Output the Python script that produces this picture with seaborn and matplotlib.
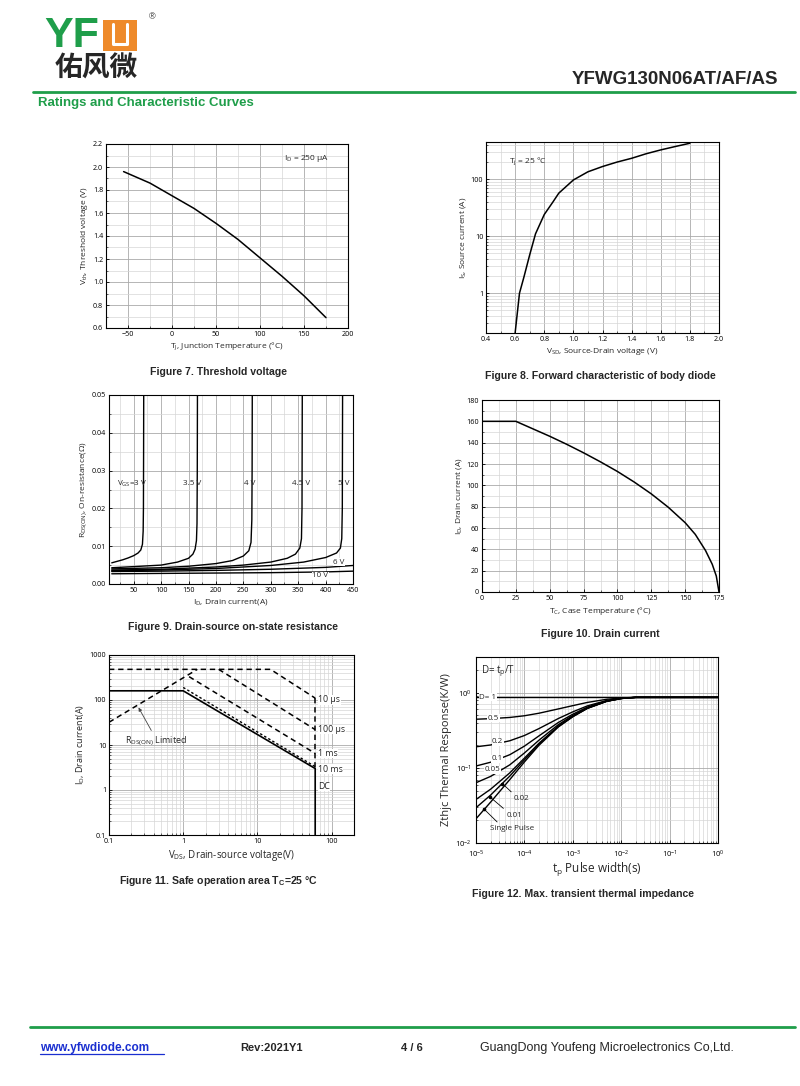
import numpy as np
import pandas as pd
import matplotlib
matplotlib.use("Agg")
import matplotlib.pyplot as plt
import seaborn as sns
from matplotlib.ticker import MultipleLocator, LogLocator, NullFormatter, FixedLocator, FormatStrFormatter
from matplotlib.patches import Rectangle
from matplotlib.lines import Line2D

# ---------------- data ----------------
# Figure 7: threshold voltage vs junction temperature
tj = [-55, -40, -25, 0, 25, 50, 75, 100, 125, 150, 175]
vth = [1.96, 1.91, 1.86, 1.75, 1.64, 1.51, 1.37, 1.21, 1.05, 0.88, 0.69]

# Figure 8: body diode forward characteristic
vsd = [0.60, 0.63, 0.66, 0.70, 0.74, 0.80, 0.86, 0.90, 1.00, 1.10, 1.20, 1.30, 1.40, 1.50, 1.60, 1.70, 1.80]
isd = [0.2, 1.0, 1.9, 4.7, 11, 24, 40, 57, 97, 135, 167, 200, 233, 280, 327, 375, 428]

# Figure 9: on-resistance vs drain current for several VGS
vgs_labels = ["3 V", "3.5 V", "4 V", "4.5 V", "5 V", "6 V", "10 V"]
id_3v0 = [10, 20, 30, 40, 50, 58, 63, 66, 67.3, 67.8, 68.1, 68.3]
r_3v0 = [0.0056, 0.0060, 0.0064, 0.0069, 0.0075, 0.0082, 0.0090, 0.0105, 0.0140, 0.0200, 0.0350, 0.0500]
id_3v5 = [10, 50, 100, 130, 150, 158, 162, 164.5, 165.5, 166, 166.3]
r_3v5 = [0.0043, 0.0046, 0.0050, 0.0058, 0.0068, 0.0079, 0.0092, 0.0115, 0.0160, 0.0300, 0.0500]
id_4v0 = [10, 100, 150, 200, 230, 250, 260, 264, 265.5, 266, 266.3]
r_4v0 = [0.0040, 0.0043, 0.0047, 0.0054, 0.0062, 0.0074, 0.0088, 0.0110, 0.0170, 0.0300, 0.0500]
id_4v5 = [10, 100, 200, 250, 300, 330, 345, 353, 356, 357, 357.5]
r_4v5 = [0.0037, 0.0039, 0.0045, 0.0050, 0.0058, 0.0068, 0.0079, 0.0095, 0.0120, 0.0200, 0.0500]
id_5v0 = [10, 100, 200, 300, 360, 400, 420, 427, 429.5, 430.5, 431]
r_5v0 = [0.0035, 0.0037, 0.0041, 0.0049, 0.0058, 0.0070, 0.0082, 0.0095, 0.0120, 0.0200, 0.0500]
id_6v0 = [10, 100, 200, 300, 400, 450]
r_6v0 = [0.0033, 0.0034, 0.0036, 0.0039, 0.0044, 0.0049]
id_10v = [10, 100, 200, 300, 400, 450]
r_10v = [0.0027, 0.0028, 0.0029, 0.0030, 0.0032, 0.0034]

# Figure 10: drain current derating vs case temperature
tc = [0, 25, 37.5, 50, 62.5, 75, 87.5, 100, 112.5, 125, 137.5, 150, 157.5, 165, 170, 173, 175]
idc = [160, 160, 153, 146, 138.5, 130.5, 122, 113, 103, 92, 79.5, 65, 54, 39, 26, 15, 0]

# Figure 11: safe operating area
soa_dc_v = [0.1, 1.0, 60, 60]
soa_dc_i = [160, 160, 3.0, 0.1]
soa_10ms_v = [1.0, 60]
soa_10ms_i = [190, 3.3]
soa_1ms_v = [1.2, 60]
soa_1ms_i = [330, 6.5]
soa_100us_v = [3.0, 60]
soa_100us_i = [480, 22]
soa_10us_v = [0.1, 15, 60]
soa_10us_i = [480, 480, 110]
soa_rds_v = [0.1, 1.55]
soa_rds_i = [32, 480]
soa_vmax_v = [60, 60]
soa_vmax_i = [110, 3.0]
soa_labels = ["10 µs", "100 µs", "1 ms", "10 ms", "DC"]
soa_label_i = [100, 22, 6.5, 2.9, 1.2]

# Figure 12: transient thermal impedance
tp = [1e-5, 2e-5, 5e-5, 1e-4, 2e-4, 5e-4, 1e-3, 2e-3, 5e-3, 1e-2, 2e-2, 1e-1, 1.0]
z_d100 = [0.87, 0.87, 0.87, 0.87, 0.87, 0.87, 0.87, 0.87, 0.87, 0.87, 0.87, 0.87, 0.87]
z_d050 = [0.445, 0.453, 0.470, 0.495, 0.535, 0.610, 0.675, 0.745, 0.820, 0.855, 0.870, 0.87, 0.87]
z_d020 = [0.191, 0.202, 0.230, 0.270, 0.334, 0.454, 0.558, 0.670, 0.790, 0.846, 0.870, 0.87, 0.87]
z_d010 = [0.106, 0.119, 0.150, 0.195, 0.267, 0.402, 0.519, 0.645, 0.780, 0.843, 0.870, 0.87, 0.87]
z_d005 = [0.0635, 0.077, 0.110, 0.158, 0.234, 0.376, 0.500, 0.633, 0.775, 0.842, 0.870, 0.87, 0.87]
z_d002 = [0.038, 0.052, 0.086, 0.135, 0.213, 0.360, 0.488, 0.625, 0.772, 0.841, 0.870, 0.87, 0.87]
z_d001 = [0.0295, 0.0434, 0.078, 0.128, 0.207, 0.355, 0.484, 0.623, 0.771, 0.840, 0.870, 0.87, 0.87]
z_single = [0.021, 0.035, 0.070, 0.120, 0.200, 0.350, 0.480, 0.620, 0.770, 0.840, 0.870, 0.87, 0.87]

# ---------------- style ----------------
sns.set_theme(style="ticks")
plt.rcParams['font.family'] = ['Open Sans', 'DejaVu Sans', 'Noto Sans CJK SC']
plt.rcParams['mathtext.default'] = 'regular'

W, H = 800, 1086
fig = plt.figure(figsize=(W / 100, H / 100), dpi=100)
fig.patch.set_facecolor('white')

GREEN = '#1f9e4a'
ORANGE = '#ee8a2a'
HEAD = ['Liberation Sans', 'DejaVu Sans']


def px(x, y):
    return x / W, 1 - y / H


def make_ax(l, t, r, b):
    return fig.add_axes([l / W, 1 - b / H, (r - l) / W, (b - t) / H])


def style_ax(ax, labelsize=5.2):
    for s in ax.spines.values():
        s.set_color('black')
        s.set_linewidth(0.8)
    ax.tick_params(which='major', direction='in', length=2.5, width=0.6,
                   labelsize=labelsize, colors='black', pad=2)
    ax.tick_params(which='minor', direction='in', length=1.5, width=0.5)
    ax.grid(True, which='major', color='#a9a9a9', lw=0.6)
    ax.grid(True, which='minor', color='#d6d6d6', lw=0.5)
    ax.set_axisbelow(True)
    ax.set_facecolor('white')


def curve(ax, x, y, **kw):
    kw.setdefault('color', 'black')
    kw.setdefault('lw', 1.1)
    sns.lineplot(x=x, y=y, ax=ax, sort=False, estimator=None, legend=False, **kw)


def caption(x, y, text):
    fig.text(*px(x, y), text, ha='center', va='center', fontsize=7.6,
             fontweight='bold', family=HEAD)


# ---------------- header ----------------
fig.text(*px(44, 36), "YF", color=GREEN, fontsize=31, fontweight='bold',
         family=HEAD, ha='left', va='center')
fig.patches.append(Rectangle(px(103, 51), 34 / W, 31 / H, transform=fig.transFigure,
                             facecolor=ORANGE, edgecolor='none'))
fig.lines.append(Line2D([113 / W, 113 / W, 127 / W, 127 / W],
                        [1 - 24 / H, 1 - 44 / H, 1 - 44 / H, 1 - 24 / H],
                        transform=fig.transFigure, color='white', lw=2.2))
fig.text(*px(152, 17), "®", fontsize=6.5, ha='center', va='center', family=HEAD)
fig.text(*px(55, 69), "佑风微", fontsize=20, fontweight='bold', ha='left', va='center',
         family=['Noto Sans CJK SC', 'DejaVu Sans'])
fig.text(*px(778, 80), "YFWG130N06AT/AF/AS", fontsize=13.5, fontweight='bold',
         ha='right', va='center', family=HEAD)
fig.lines.append(Line2D([33 / W, 795 / W], [1 - 92 / H, 1 - 92 / H],
                        transform=fig.transFigure, color=GREEN, lw=2))
fig.text(*px(38, 103), "Ratings and Characteristic Curves", fontsize=9.5,
         fontweight='bold', color=GREEN, ha='left', va='center', family=HEAD)

# ---------------- footer ----------------
fig.lines.append(Line2D([30 / W, 795 / W], [1 - 1027 / H, 1 - 1027 / H],
                        transform=fig.transFigure, color=GREEN, lw=2))
fig.text(*px(40, 1048), "www.yfwdiode.com", fontsize=8.5, fontweight='bold',
         color='#1a2fd0', ha='left', va='center', family=HEAD)
fig.lines.append(Line2D([40 / W, 164 / W], [1 - 1054 / H, 1 - 1054 / H],
                        transform=fig.transFigure, color='#1a2fd0', lw=0.9))
fig.text(*px(240, 1048), "Rev:2021Y1", fontsize=8, fontweight='bold', ha='left',
         va='center', family=HEAD)
fig.text(*px(401, 1048), "4 / 6", fontsize=8, fontweight='bold', ha='left',
         va='center', family=HEAD)
fig.text(*px(480, 1048), "GuangDong Youfeng Microelectronics Co,Ltd.", fontsize=9,
         ha='left', va='center', family=HEAD)

# ---------------- Figure 7 ----------------
ax = make_ax(106, 144, 348, 328)
style_ax(ax)
curve(ax, tj, vth)
ax.set_xlim(-75, 200)
ax.set_ylim(0.6, 2.2)
ax.xaxis.set_major_locator(FixedLocator([-50, 0, 50, 100, 150, 200]))
ax.xaxis.set_minor_locator(MultipleLocator(25))
ax.yaxis.set_major_locator(MultipleLocator(0.2))
ax.yaxis.set_minor_locator(MultipleLocator(0.1))
ax.yaxis.set_major_formatter(FormatStrFormatter('%.1f'))
ax.set_xlabel("T$_J$, Junction Temperature (°C)", fontsize=6, labelpad=2)
ax.set_ylabel("V$_{th}$, Threshold voltage (V)", fontsize=6, labelpad=2)
ax.text(127, 2.07, "I$_D$ = 250 µA", fontsize=6, ha='left', va='center')
caption(218, 372, "Figure 7. Threshold voltage")

# ---------------- Figure 8 ----------------
ax = make_ax(486, 142, 719, 333)
style_ax(ax)
curve(ax, vsd, isd)
ax.set_yscale('log')
ax.set_xlim(0.4, 2.0)
ax.set_ylim(0.2, 450)
ax.xaxis.set_major_locator(MultipleLocator(0.2))
ax.xaxis.set_minor_locator(MultipleLocator(0.1))
ax.xaxis.set_major_formatter(FormatStrFormatter('%.1f'))
ax.yaxis.set_major_locator(FixedLocator([1, 10, 100]))
ax.yaxis.set_major_formatter(FormatStrFormatter('%g'))
ax.yaxis.set_minor_locator(LogLocator(base=10, subs=np.arange(2, 10)))
ax.yaxis.set_minor_formatter(NullFormatter())
ax.set_xlabel("V$_{SD}$, Source-Drain voltage (V)", fontsize=6, labelpad=2)
ax.set_ylabel("I$_S$, Source current (A)", fontsize=6, labelpad=2)
ax.text(0.56, 210, "T$_j$ = 25 °C", fontsize=6, ha='left', va='center')
caption(600, 376, "Figure 8. Forward characteristic of body diode")

# ---------------- Figure 9 ----------------
ax = make_ax(109, 395, 353, 584)
style_ax(ax)
for xs, ys in [(id_3v0, r_3v0), (id_3v5, r_3v5), (id_4v0, r_4v0), (id_4v5, r_4v5),
               (id_5v0, r_5v0), (id_6v0, r_6v0), (id_10v, r_10v)]:
    curve(ax, xs, ys, lw=1.0)
ax.set_xlim(5, 450)
ax.set_ylim(0, 0.05)
ax.xaxis.set_major_locator(MultipleLocator(50))
ax.xaxis.set_minor_locator(MultipleLocator(25))
ax.yaxis.set_major_locator(MultipleLocator(0.01))
ax.yaxis.set_minor_locator(MultipleLocator(0.005))
ax.yaxis.set_major_formatter(FormatStrFormatter('%.2f'))
ax.set_xlabel("I$_D$, Drain current(A)", fontsize=6, labelpad=2)
ax.set_ylabel("R$_{DS(ON)}$, On-resistance(Ω)", fontsize=6, labelpad=2)
lab_y = 0.0265
ax.text(47, lab_y, "V$_{GS}$=" + vgs_labels[0], fontsize=5.8, ha='center', va='center')
ax.text(157, lab_y, vgs_labels[1], fontsize=5.8, ha='center', va='center')
ax.text(262, lab_y, vgs_labels[2], fontsize=5.8, ha='center', va='center')
ax.text(355, lab_y, vgs_labels[3], fontsize=5.8, ha='center', va='center')
ax.text(434, lab_y, vgs_labels[4], fontsize=5.8, ha='center', va='center')
ax.text(424, 0.0058, vgs_labels[5], fontsize=5.8, ha='center', va='center',
        bbox=dict(fc='white', ec='none', pad=0.3))
ax.text(390, 0.0022, vgs_labels[6], fontsize=5.8, ha='center', va='center',
        bbox=dict(fc='white', ec='none', pad=0.3))
caption(233, 627, "Figure 9. Drain-source on-state resistance")

# ---------------- Figure 10 ----------------
ax = make_ax(482, 400, 719, 592)
style_ax(ax)
curve(ax, tc, idc)
ax.set_xlim(0, 175)
ax.set_ylim(0, 180)
ax.xaxis.set_major_locator(MultipleLocator(25))
ax.xaxis.set_minor_locator(MultipleLocator(12.5))
ax.yaxis.set_major_locator(MultipleLocator(20))
ax.yaxis.set_minor_locator(MultipleLocator(10))
ax.set_xlabel("T$_C$, Case Temperature (°C)", fontsize=6, labelpad=2)
ax.set_ylabel("I$_D$, Drain current (A)", fontsize=6, labelpad=2)
caption(600, 634, "Figure 10. Drain current")

# ---------------- Figure 11 ----------------
ax = make_ax(109, 655, 354, 835)
style_ax(ax)
ax.set_xscale('log')
ax.set_yscale('log')
dash = (0, (3.5, 2.5))
curve(ax, soa_dc_v, soa_dc_i, lw=1.2)
curve(ax, soa_10ms_v, soa_10ms_i, lw=1.0, linestyle=(0, (1.8, 1.6)))
curve(ax, soa_1ms_v, soa_1ms_i, lw=1.1, linestyle=dash)
curve(ax, soa_100us_v, soa_100us_i, lw=1.1, linestyle=dash)
curve(ax, soa_10us_v, soa_10us_i, lw=1.1, linestyle=dash)
curve(ax, soa_rds_v, soa_rds_i, lw=1.1, linestyle=dash)
curve(ax, soa_vmax_v, soa_vmax_i, lw=1.1, linestyle=dash)
ax.set_xlim(0.1, 200)
ax.set_ylim(0.1, 1000)
ax.xaxis.set_major_locator(FixedLocator([0.1, 1, 10, 100]))
ax.xaxis.set_major_formatter(FormatStrFormatter('%g'))
ax.xaxis.set_minor_locator(LogLocator(base=10, subs=np.arange(2, 10)))
ax.xaxis.set_minor_formatter(NullFormatter())
ax.yaxis.set_major_locator(FixedLocator([0.1, 1, 10, 100, 1000]))
ax.yaxis.set_major_formatter(FormatStrFormatter('%g'))
ax.yaxis.set_minor_locator(LogLocator(base=10, subs=np.arange(2, 10)))
ax.yaxis.set_minor_formatter(NullFormatter())
ax.set_xlabel("V$_{DS}$, Drain-source voltage(V)", fontsize=7, labelpad=2)
ax.set_ylabel("I$_D$, Drain current(A)", fontsize=6.5, labelpad=2)
for lab, yv in zip(soa_labels, soa_label_i):
    ax.text(66, yv, lab, fontsize=6.3, ha='left', va='center',
            bbox=dict(fc='white', ec='none', pad=0.2))
ax.annotate("R$_{DS(ON)}$ Limited", xy=(0.25, 68), xytext=(0.165, 12.5),
            fontsize=6.5, ha='left', va='center',
            arrowprops=dict(arrowstyle='-|>', color='#444444', lw=0.6,
                            shrinkA=0, shrinkB=0, mutation_scale=5,
                            relpos=(0.45, 1.0)))
caption(219, 881, "Figure 11. Safe operation area T$_C$=25 °C")

# ---------------- Figure 12 ----------------
ax = make_ax(476, 657, 718, 843)
style_ax(ax, labelsize=5.5)
ax.set_xscale('log')
ax.set_yscale('log')
for zs in [z_d100, z_d050, z_d020, z_d010, z_d005, z_d002, z_d001, z_single]:
    curve(ax, tp, zs, lw=1.0)
ax.set_xlim(1e-5, 1)
ax.set_ylim(0.01, 3)
ax.xaxis.set_major_locator(FixedLocator([1e-5, 1e-4, 1e-3, 1e-2, 1e-1, 1]))
ax.set_xticklabels(["$10^{-5}$", "$10^{-4}$", "$10^{-3}$", "$10^{-2}$", "$10^{-1}$", "$10^{0}$"])
ax.xaxis.set_minor_locator(LogLocator(base=10, subs=np.arange(2, 10)))
ax.xaxis.set_minor_formatter(NullFormatter())
ax.yaxis.set_major_locator(FixedLocator([0.01, 0.1, 1]))
ax.set_yticklabels(["$10^{-2}$", "$10^{-1}$", "$10^{0}$"])
ax.yaxis.set_minor_locator(LogLocator(base=10, subs=np.arange(2, 10)))
ax.yaxis.set_minor_formatter(NullFormatter())
ax.tick_params(axis='x', which='major', pad=4)
ax.tick_params(axis='y', which='major', pad=3)
ax.set_xlabel("t$_p$ Pulse width(s)", fontsize=8.5, labelpad=1)
ax.set_ylabel("Zthjc Thermal Response(K/W)", fontsize=8, labelpad=2)
ax.text(1.25e-5, 1.95, "D= t$_p$/T", fontsize=7, ha='left', va='center')
bb = dict(fc='white', ec='none', pad=0.3)
ax.text(1.75e-5, 0.87, "D= 1", fontsize=5.8, ha='center', va='center', bbox=bb)
ax.text(2.3e-5, 0.46, "0.5", fontsize=5.8, ha='center', va='center', bbox=bb)
ax.text(2.8e-5, 0.222, "0.2", fontsize=5.8, ha='center', va='center', bbox=bb)
ax.text(2.7e-5, 0.133, "0.1", fontsize=5.8, ha='center', va='center', bbox=bb)
ax.text(2.2e-5, 0.094, "0.05", fontsize=5.8, ha='center', va='center', bbox=bb)
arr = dict(arrowstyle='-', color='black', lw=0.6, shrinkA=0, shrinkB=0)
ax.annotate("0.02", xy=(3.5e-5, 0.062), xytext=(8.8e-5, 0.039), fontsize=5.8,
            ha='center', va='center', arrowprops=dict(arr, relpos=(0.1, 0.9)))
ax.annotate("0.01", xy=(1.95e-5, 0.041), xytext=(6.2e-5, 0.0235), fontsize=5.8,
            ha='center', va='center', arrowprops=dict(arr, relpos=(0.1, 0.9)))
ax.annotate("Single Pulse", xy=(1.45e-5, 0.0285), xytext=(5.6e-5, 0.0155), fontsize=5.8,
            ha='center', va='center', arrowprops=dict(arr, relpos=(0.25, 0.9)))
for xx, yy in [(3.5e-5, 0.062), (1.95e-5, 0.041), (1.45e-5, 0.0285)]:
    ax.plot([xx], [yy], marker='o', ms=1.6, color='black')
caption(583, 894, "Figure 12. Max. transient thermal impedance")

fig.savefig("out.png", dpi=100, facecolor='white')
